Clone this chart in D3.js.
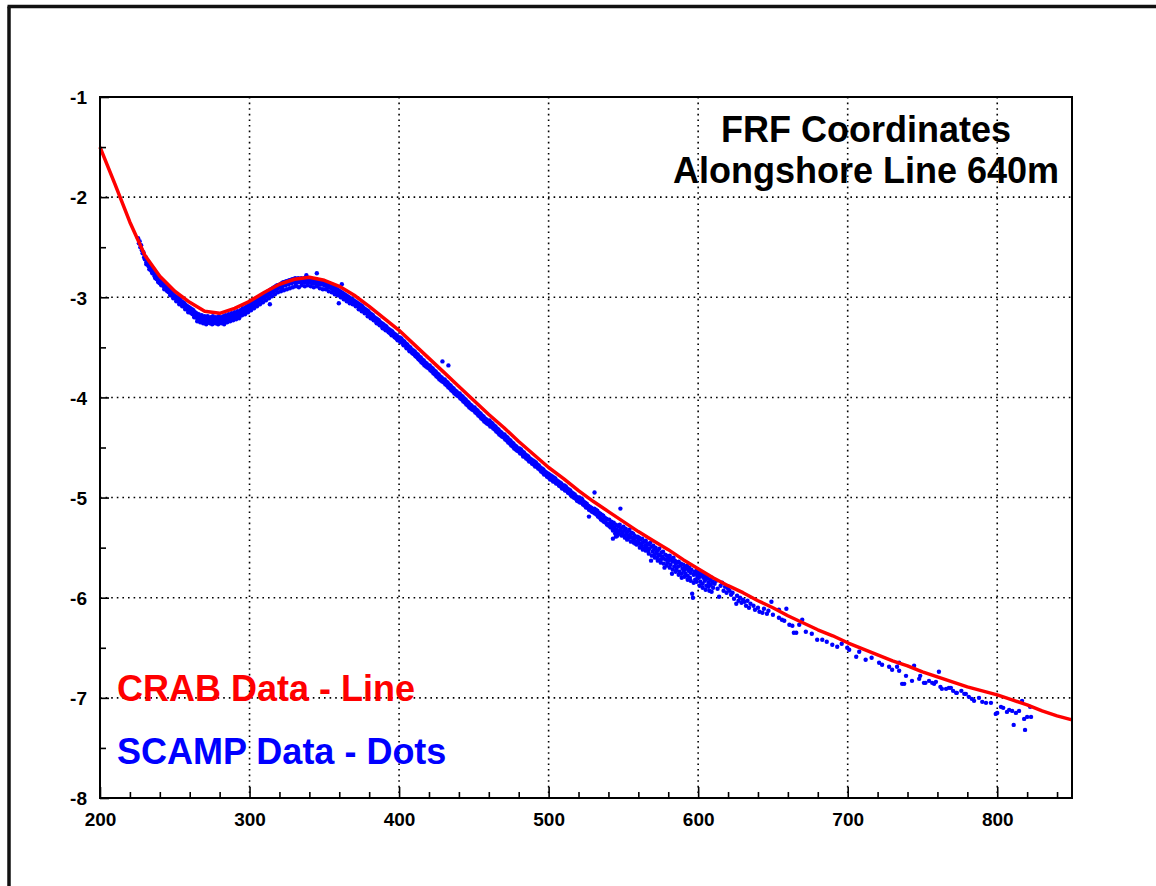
<!DOCTYPE html>
<html>
<head>
<meta charset="utf-8">
<script src="https://cdn.jsdelivr.net/npm/d3@7"></script>
<style>
  html, body { margin: 0; padding: 0; background: #fff; }
  svg { display: block; }
  text { font-family: "Liberation Sans", Arial, Helvetica, sans-serif; font-weight: bold; }
</style>
</head>
<body>
<svg id="chart" width="1156" height="886"></svg>
<script>
// ---------------- DATA ----------------
const titleLines = ["FRF Coordinates", "Alongshore Line 640m"];
const legendLabels = ["CRAB Data - Line", "SCAMP Data - Dots"];
const xTickValues = [200, 300, 400, 500, 600, 700, 800];
const xTickLabels = ["200", "300", "400", "500", "600", "700", "800"];
const yTickValues = [-1, -2, -3, -4, -5, -6, -7, -8];
const yTickLabels = ["-1", "-2", "-3", "-4", "-5", "-6", "-7", "-8"];

// CRAB survey line (cross-shore distance, elevation)
const crabX = [200,210,220,230,240,250,260,270,280,290,300,310,320,330,340,350,360,370,380,390,
               400,410,420,430,440,450,460,470,480,490,500,510,520,530,540,550,560,570,580,590,
               600,610,620,630,640,650,660,670,680,690,700,710,720,730,740,750,760,770,780,790,
               800,810,820,830,840,850];
const crabY = [-1.50,-1.87,-2.25,-2.58,-2.79,-2.94,-3.05,-3.14,-3.16,-3.11,-3.04,-2.95,-2.87,-2.82,-2.80,-2.83,-2.89,-2.98,-3.09,-3.21,
               -3.33,-3.47,-3.61,-3.75,-3.89,-4.03,-4.17,-4.30,-4.44,-4.57,-4.70,-4.81,-4.93,-5.04,-5.14,-5.24,-5.34,-5.43,-5.52,-5.62,
               -5.71,-5.80,-5.88,-5.95,-6.03,-6.10,-6.18,-6.25,-6.32,-6.38,-6.45,-6.51,-6.57,-6.63,-6.68,-6.74,-6.79,-6.84,-6.89,-6.93,
               -6.97,-7.02,-7.07,-7.13,-7.18,-7.22];

// SCAMP soundings (cross-shore distance, elevation)
const scampDots = [
[225.5,-2.41],[226,-2.46],[226.5,-2.44],[227,-2.50],[227.5,-2.48],[228,-2.53],[228.5,-2.56],[229,-2.55],[229.5,-2.60],[230,-2.62],
[230.5,-2.60],[231,-2.65],[231.5,-2.63],[232,-2.66],[232.5,-2.69],[233,-2.67],[233.5,-2.72],[234,-2.70],[234.5,-2.74],[235,-2.72],
[235.5,-2.76],[236,-2.75],[236.5,-2.79],[237,-2.77],[237.5,-2.80],[238,-2.82],[238.5,-2.80],[239,-2.84],[239.5,-2.83],[240,-2.86],
[240.5,-2.84],[241,-2.87],[241.5,-2.85],[242,-2.88],[242.5,-2.87],[243,-2.90],[243.5,-2.89],[244,-2.92],[244.5,-2.90],[245,-2.93],
[245.5,-2.92],[246,-2.95],[246.5,-2.93],[247,-2.96],[247.5,-2.95],[248,-2.98],[248.5,-2.96],[249,-2.99],[249.5,-2.98],[250,-3.00],
[250.5,-2.99],[251,-3.02],[251.5,-3.00],[252,-3.03],[252.5,-3.01],[253,-3.05],[253.5,-3.02],[254,-3.06],[254.5,-3.04],[255,-3.07],
[255.5,-3.05],[256,-3.09],[256.5,-3.06],[257,-3.10],[257.5,-3.08],[258,-3.11],[258.5,-3.09],[259,-3.13],[259.5,-3.10],[260,-3.14],
[260.5,-3.11],[261,-3.15],[261.5,-3.12],[262,-3.17],[262.5,-3.13],[263,-3.18],[263.5,-3.15],[264,-3.20],[264.5,-3.16],[265,-3.19],
[265.5,-3.22],[266,-3.17],[266.5,-3.21],[267,-3.19],[267.5,-3.23],[268,-3.18],[268.5,-3.22],[269,-3.20],[269.5,-3.24],[270,-3.19],
[270.5,-3.22],[271,-3.20],[271.5,-3.25],[272,-3.19],[272.5,-3.23],[273,-3.21],[273.5,-3.26],[274,-3.20],[274.5,-3.24],[275,-3.22],
[275.5,-3.19],[276,-3.25],[276.5,-3.21],[277,-3.23],[277.5,-3.20],[278,-3.26],[278.5,-3.22],[279,-3.24],[279.5,-3.19],[280,-3.23],
[280.5,-3.21],[281,-3.25],[281.5,-3.20],[282,-3.23],[282.5,-3.19],[283,-3.24],[283.5,-3.21],[284,-3.18],[284.5,-3.22],[285,-3.20],
[285.5,-3.24],[286,-3.17],[286.5,-3.21],[287,-3.19],[287.5,-3.22],[288,-3.16],[288.5,-3.20],[289,-3.18],[289.5,-3.21],[290,-3.15],
[290.5,-3.19],[291,-3.16],[291.5,-3.20],[292,-3.14],[292.5,-3.18],[293,-3.15],[293.5,-3.19],[294,-3.13],[294.5,-3.17],[295,-3.14],
[295.5,-3.11],[296,-3.16],[296.5,-3.12],[297,-3.15],[297.5,-3.10],[298,-3.14],[298.5,-3.09],[299,-3.13],[299.5,-3.08],[300,-3.11],
[300.5,-3.07],[301,-3.10],[301.5,-3.05],[302,-3.09],[302.5,-3.04],[303,-3.08],[303.5,-3.03],[304,-3.07],[304.5,-3.02],[305,-3.05],
[305.5,-3.01],[306,-3.04],[306.5,-3.00],[307,-3.03],[307.5,-2.99],[308,-3.02],[308.5,-2.98],[309,-3.01],[309.5,-2.97],[310,-3.00],
[313.6,-3.07],
[310.5,-2.96],[311,-2.99],[311.5,-2.95],[312,-2.98],[312.5,-2.94],[313,-2.97],[313.5,-2.93],[314,-2.96],[314.5,-2.92],[315,-2.95],
[315.5,-2.91],[316,-2.94],[316.5,-2.90],[317,-2.93],[317.5,-2.89],[318,-2.92],[318.5,-2.88],[319,-2.91],[319.5,-2.88],[320,-2.90],
[320.5,-2.87],[321,-2.90],[321.5,-2.86],[322,-2.89],[322.5,-2.85],[323,-2.88],[323.5,-2.85],[324,-2.88],[324.5,-2.84],[325,-2.87],
[325.5,-2.84],[326,-2.87],[326.5,-2.83],[327,-2.86],[327.5,-2.83],[328,-2.86],[328.5,-2.82],[329,-2.85],[329.5,-2.82],[330,-2.85],
[330.5,-2.81],[331,-2.85],[331.5,-2.82],[332,-2.84],[332.5,-2.81],[333,-2.85],[333.5,-2.82],[334,-2.84],[334.5,-2.81],[335,-2.85],
[335.5,-2.82],[336,-2.84],[336.5,-2.81],[337,-2.85],[337.5,-2.82],[338,-2.84],[338.5,-2.81],[339,-2.85],[339.5,-2.82],[340,-2.84],
[338,-2.78],[345,-2.76],[331,-2.88],[322,-2.92],
[340.5,-2.82],[341,-2.85],[341.5,-2.83],[342,-2.86],[342.5,-2.82],[343,-2.85],[343.5,-2.83],[344,-2.86],[344.5,-2.82],[345,-2.85],
[345.5,-2.83],[346,-2.87],[346.5,-2.84],[347,-2.86],[347.5,-2.83],[348,-2.87],[348.5,-2.84],[349,-2.87],[349.5,-2.85],[350,-2.88],
[350.5,-2.85],[351,-2.88],[351.5,-2.86],[352,-2.89],[352.5,-2.86],[353,-2.90],[353.5,-2.87],[354,-2.90],[354.5,-2.88],[355,-2.91],
[355.5,-2.89],[356,-2.92],[356.5,-2.90],[357,-2.93],[357.5,-2.91],[358,-2.94],[358.5,-2.92],[359,-2.95],[359.5,-2.93],[360,-2.96],
[361.7,-2.87],[359.7,-3.06],
[360.5,-2.94],[361,-2.97],[361.5,-2.95],[362,-2.98],[362.5,-2.96],[363,-2.99],[363.5,-2.97],[364,-3.00],[364.5,-2.98],[365,-3.01],
[365.5,-2.99],[366,-3.02],[366.5,-3.00],[367,-3.03],[367.5,-3.01],[368,-3.04],[368.5,-3.02],[369,-3.05],[369.5,-3.03],[370,-3.06],
[370.5,-3.04],[371,-3.07],[371.5,-3.05],[372,-3.08],[372.5,-3.06],[373,-3.09],[373.5,-3.07],[374,-3.11],[374.5,-3.08],[375,-3.12],
[375.5,-3.09],[376,-3.13],[376.5,-3.11],[377,-3.14],[377.5,-3.12],[378,-3.15],[378.5,-3.13],[379,-3.17],[379.5,-3.14],[380,-3.18],
[380.5,-3.16],[381,-3.19],[381.5,-3.17],[382,-3.21],[382.5,-3.18],[383,-3.22],[383.5,-3.20],[384,-3.23],[384.5,-3.21],[385,-3.25],
[385.5,-3.22],[386,-3.26],[386.5,-3.23],[387,-3.27],[387.5,-3.25],[388,-3.28],[388.5,-3.26],[389,-3.30],[389.5,-3.27],[390,-3.31],
[390.5,-3.28],[391,-3.32],[391.5,-3.29],[392,-3.33],[392.5,-3.31],[393,-3.34],[393.5,-3.32],[394,-3.36],[394.5,-3.33],[395,-3.37],
[395.5,-3.34],[396,-3.38],[396.5,-3.36],[397,-3.39],[397.5,-3.37],[398,-3.41],[398.5,-3.38],[399,-3.42],[399.5,-3.40],[400,-3.43],
[400.5,-3.40],[401,-3.44],[401.5,-3.41],[402,-3.45],[402.5,-3.43],[403,-3.47],[403.5,-3.44],[404,-3.48],[404.5,-3.46],[405,-3.50],
[405.5,-3.47],[406,-3.51],[406.5,-3.49],[407,-3.53],[407.5,-3.50],[408,-3.54],[408.5,-3.52],[409,-3.56],[409.5,-3.53],[410,-3.57],
[410.5,-3.54],[411,-3.58],[411.5,-3.56],[412,-3.60],[412.5,-3.57],[413,-3.61],[413.5,-3.59],[414,-3.63],[414.5,-3.60],[415,-3.64],
[415.5,-3.62],[416,-3.66],[416.5,-3.63],[417,-3.67],[417.5,-3.65],[418,-3.69],[418.5,-3.66],[419,-3.70],[419.5,-3.68],[420,-3.71],
[429,-3.64],[433,-3.68],
[420.5,-3.68],[421,-3.72],[421.5,-3.70],[422,-3.74],[422.5,-3.71],[423,-3.75],[423.5,-3.73],[424,-3.77],[424.5,-3.74],[425,-3.78],
[425.5,-3.76],[426,-3.80],[426.5,-3.77],[427,-3.81],[427.5,-3.79],[428,-3.83],[428.5,-3.80],[429,-3.84],[429.5,-3.82],[430,-3.85],
[430.5,-3.82],[431,-3.86],[431.5,-3.84],[432,-3.88],[432.5,-3.85],[433,-3.89],[433.5,-3.87],[434,-3.91],[434.5,-3.88],[435,-3.92],
[435.5,-3.90],[436,-3.94],[436.5,-3.91],[437,-3.95],[437.5,-3.93],[438,-3.97],[438.5,-3.94],[439,-3.98],[439.5,-3.96],[440,-3.99],
[440.5,-3.96],[441,-4.00],[441.5,-3.98],[442,-4.02],[442.5,-3.99],[443,-4.03],[443.5,-4.01],[444,-4.05],[444.5,-4.02],[445,-4.06],
[445.5,-4.04],[446,-4.08],[446.5,-4.05],[447,-4.09],[447.5,-4.07],[448,-4.11],[448.5,-4.08],[449,-4.12],[449.5,-4.10],[450,-4.13],
[450.5,-4.10],[451,-4.14],[451.5,-4.12],[452,-4.16],[452.5,-4.13],[453,-4.17],[453.5,-4.15],[454,-4.19],[454.5,-4.16],[455,-4.20],
[455.5,-4.18],[456,-4.22],[456.5,-4.19],[457,-4.23],[457.5,-4.21],[458,-4.25],[458.5,-4.22],[459,-4.26],[459.5,-4.24],[460,-4.27],
[460.5,-4.23],[461,-4.27],[461.5,-4.25],[462,-4.29],[462.5,-4.26],[463,-4.30],[463.5,-4.28],[464,-4.32],[464.5,-4.29],[465,-4.33],
[465.5,-4.31],[466,-4.35],[466.5,-4.32],[467,-4.36],[467.5,-4.34],[468,-4.38],[468.5,-4.35],[469,-4.39],[469.5,-4.37],[470,-4.40],
[470.5,-4.37],[471,-4.41],[471.5,-4.39],[472,-4.43],[472.5,-4.40],[473,-4.44],[473.5,-4.42],[474,-4.46],[474.5,-4.43],[475,-4.47],
[475.5,-4.45],[476,-4.49],[476.5,-4.46],[477,-4.50],[477.5,-4.48],[478,-4.52],[478.5,-4.49],[479,-4.53],[479.5,-4.51],[480,-4.54],
[480.5,-4.51],[481,-4.55],[481.5,-4.52],[482,-4.56],[482.5,-4.54],[483,-4.58],[483.5,-4.55],[484,-4.59],[484.5,-4.57],[485,-4.60],
[485.5,-4.58],[486,-4.62],[486.5,-4.59],[487,-4.63],[487.5,-4.61],[488,-4.64],[488.5,-4.62],[489,-4.66],[489.5,-4.63],[490,-4.67],
[490.5,-4.64],[491,-4.68],[491.5,-4.65],[492,-4.69],[492.5,-4.67],[493,-4.70],[493.5,-4.68],[494,-4.72],[494.5,-4.70],[495,-4.73],
[495.5,-4.71],[496,-4.75],[496.5,-4.72],[497,-4.76],[497.5,-4.74],[498,-4.77],[498.5,-4.75],[499,-4.79],[499.5,-4.76],[500,-4.80],
[500.5,-4.77],[501,-4.81],[501.5,-4.78],[502,-4.82],[502.5,-4.79],[503,-4.83],[503.5,-4.80],[504,-4.84],[504.5,-4.81],[505,-4.85],
[505.5,-4.83],[506,-4.86],[506.5,-4.84],[507,-4.88],[507.5,-4.85],[508,-4.89],[508.5,-4.86],[509,-4.90],[509.5,-4.88],[510,-4.91],
[510.5,-4.88],[511,-4.92],[511.5,-4.89],[512,-4.93],[512.5,-4.91],[513,-4.95],[513.5,-4.92],[514,-4.96],[514.5,-4.93],[515,-4.97],
[515.5,-4.95],[516,-4.99],[516.5,-4.96],[517,-5.00],[517.5,-4.97],[518,-5.01],[518.5,-4.99],[519,-5.03],[519.5,-5.00],[520,-5.04],
[520.5,-5.00],[521,-5.04],[521.5,-5.01],[522,-5.05],[522.5,-5.02],[523,-5.06],[523.5,-5.04],[524,-5.08],[524.5,-5.05],[525,-5.09],
[525.5,-5.06],[526,-5.10],[526.5,-5.08],[527,-5.12],[527.5,-5.09],[528,-5.13],[528.5,-5.10],[529,-5.14],[529.5,-5.12],[530,-5.15],
[530.7,-4.95],[527,-5.19],[548,-5.11],
[530.5,-5.11],[531,-5.15],[531.5,-5.12],[532,-5.17],[532.5,-5.13],[533,-5.18],[533.5,-5.15],[534,-5.20],[534.5,-5.16],[535,-5.21],
[535.5,-5.17],[536,-5.23],[536.5,-5.18],[537,-5.24],[537.5,-5.20],[538,-5.25],[538.5,-5.21],[539,-5.27],[539.5,-5.22],[540,-5.28],
[540.5,-5.22],[541,-5.26],[541.5,-5.30],[542,-5.24],[542.5,-5.28],[543,-5.33],[543.5,-5.25],[544,-5.30],[544.5,-5.36],[545,-5.27],
[545.5,-5.32],[546,-5.38],[546.5,-5.29],[547,-5.34],[547.5,-5.27],[548,-5.32],[548.5,-5.37],[549,-5.30],[549.5,-5.35],[550,-5.29],
[545,-5.39],[543,-5.41],
[550.5,-5.33],[551,-5.38],[551.5,-5.31],[552,-5.36],[552.5,-5.42],[553,-5.34],[553.5,-5.39],[554,-5.32],[554.5,-5.37],[555,-5.44],
[555.5,-5.35],[556,-5.40],[556.5,-5.36],[557,-5.42],[557.5,-5.38],[558,-5.46],[558.5,-5.40],[559,-5.44],[559.5,-5.39],[560,-5.43],
[560.5,-5.40],[561,-5.46],[561.5,-5.42],[562,-5.48],[562.5,-5.41],[563,-5.45],[563.5,-5.51],[564,-5.44],[564.5,-5.48],[565,-5.43],
[565.5,-5.50],[566,-5.46],[566.5,-5.53],[567,-5.47],[567.5,-5.51],[568,-5.45],[568.5,-5.63],[569,-5.49],[569.5,-5.54],[570,-5.48],
[570.5,-5.52],[571,-5.57],[571.5,-5.50],[572,-5.55],[572.5,-5.60],[573,-5.53],[573.5,-5.57],[574,-5.51],[574.5,-5.58],[575,-5.62],
[575.5,-5.55],[576,-5.59],[576.5,-5.54],[577,-5.61],[577.5,-5.70],[578,-5.57],[578.5,-5.62],[579,-5.58],[579.5,-5.65],[580,-5.60],
[580.5,-5.63],[581,-5.58],[581.5,-5.67],[582,-5.61],[582.5,-5.76],[583,-5.64],[583.5,-5.60],[584,-5.69],[584.5,-5.63],[585,-5.66],
[585.5,-5.72],[586,-5.65],[586.5,-5.69],[587,-5.64],[587.5,-5.74],[588,-5.68],[588.5,-5.66],[589,-5.80],[589.5,-5.71],[590,-5.67],
[590.5,-5.73],[591,-5.69],[591.5,-5.76],[592,-5.71],[592.5,-5.68],[593,-5.78],[593.5,-5.73],[594,-5.70],[594.5,-5.80],[595,-5.75],
[595.5,-5.72],[596,-5.96],[596.5,-6.00],[597,-5.77],[597.5,-5.74],[598,-5.82],[598.5,-5.76],[599,-5.73],[599.5,-5.79],[600,-5.75],
[600.5,-5.80],[601,-5.76],[601.5,-5.84],[602,-5.78],[602.5,-5.75],[603,-5.86],[603.5,-5.80],[604,-5.77],[604.5,-5.83],[605,-5.79],
[605.5,-5.88],[606,-5.81],[606.5,-5.78],[607,-5.85],[607.5,-5.93],[608,-5.82],[608.5,-5.87],[609,-5.80],[609.5,-5.84],[610,-5.90],
[611,-5.86],[612,-5.83],[613,-5.91],[614,-5.99],[615,-5.88],[616,-5.85],[617,-5.93],[618,-5.89],[619,-5.95],[620,-5.91],
[621,-5.93],[622,-5.97],[623,-5.95],[624,-6.01],[625.5,-6.06],[626,-5.98],[627,-6.03],[628,-6.00],[629,-6.05],[630,-6.02],
[631,-6.04],[632,-6.08],[633,-6.03],[634,-6.10],[635,-6.06],[637,-6.08],[638,-6.12],[640,-6.10],
[641,-6.14],[643,-6.15],[644,-6.11],[646,-6.16],[647,-6.13],[649,-6.04],[650,-6.17],
[654,-6.20],[654,-6.12],[656,-6.22],[657.6,-6.23],[659,-6.11],[661,-6.27],[663,-6.28],[664,-6.35],[665.6,-6.35],[667.6,-6.27],
[669.6,-6.22],[672,-6.34],[676,-6.36],[679.6,-6.42],[683,-6.42],[686,-6.44],[689.7,-6.47],[693,-6.49],[696,-6.46],[699.7,-6.50],
[701,-6.52],[705.7,-6.59],[707.7,-6.54],[712,-6.62],[716,-6.60],[721,-6.65],[723,-6.67],[727.7,-6.69],[729.7,-6.72],[733,-6.69],
[734.4,-6.65],[734.4,-6.73],[736.4,-6.86],[737.8,-6.86],[739,-6.78],[743,-6.83],[744.4,-6.68],[747.8,-6.81],[751,-6.85],[752,-6.85],
[754.4,-6.83],[756.5,-6.85],[757.8,-6.86],[761,-6.74],[762,-6.89],[763,-6.91],[765.8,-6.91],[767.7,-6.90],[769,-6.90],[772.5,-6.95],
[773,-6.95],[776,-6.93],[778,-6.96],[779,-6.96],[781,-6.99],[783,-7.01],[784.5,-7.03],[787.8,-7.00],[792.5,-7.05],[795.8,-7.05],
[799,-7.16],[800,-7.15],[802.5,-7.09],[806.5,-7.14],[810,-7.13],[811,-7.27],[814.6,-7.13],[816.6,-7.03],[818,-7.21],[818.6,-7.32],
[820,-7.19],[822,-7.09],[822.6,-7.19],[804,-7.10],[808,-7.12],[812.5,-7.15],[790,-7.04],[770.5,-6.93],[759,-6.84],[748.5,-6.78],
// lower edge of the sounding band
[231,-2.67],[233,-2.72],[235,-2.76],[237,-2.81],[239,-2.85],[241,-2.88],[243,-2.92],[245,-2.94],[247,-2.98],[249,-3.01],
[251,-3.04],[253,-3.07],[255,-3.09],[257,-3.12],[259,-3.15],[261,-3.16],[263,-3.20],[265,-3.24],[267,-3.25],[269,-3.26],
[271,-3.27],[273,-3.24],[275,-3.27],[277,-3.26],[279,-3.27],[281,-3.26],[283,-3.27],[285,-3.25],[287,-3.24],[289,-3.23],
[291,-3.22],[293,-3.21],[295,-3.18],[297,-3.17],[299,-3.15],[301,-3.13],[303,-3.11],[305,-3.09],[307,-3.07],[309,-3.05],
[311,-3.03],[313,-3.01],[315,-2.99],[317,-2.97],[319,-2.95],[321,-2.94],[323,-2.93],[325,-2.92],[327,-2.91],[329,-2.90],
[331,-2.89],[333,-2.90],[335,-2.88],[337,-2.89],[339,-2.88],[341,-2.89],[343,-2.90],[345,-2.89],[347,-2.91],[349,-2.92],
[351,-2.92],[353,-2.94],[355,-2.95],[357,-2.97],[359,-2.98],[361,-3.00],[363,-3.02],[365,-3.04],[367,-3.06],[369,-3.07],
[371,-3.09],[373,-3.12],[375,-3.14],[377,-3.16],[379,-3.19],[381,-3.21],[383,-3.23],[385,-3.26],[387,-3.28],[389,-3.31],
[391,-3.33],[393,-3.35],[395,-3.38],[397,-3.40],[399,-3.43],[401,-3.45],[403,-3.48],[405,-3.51],[407,-3.54],[409,-3.56],
[411,-3.59],[413,-3.62],[415,-3.65],[417,-3.68],[419,-3.70],[421,-3.73],[423,-3.76],[425,-3.79],[427,-3.82],[429,-3.84],
[431,-3.87],[433,-3.90],[435,-3.93],[437,-3.96],[439,-3.98],[441,-4.01],[443,-4.04],[445,-4.07],[447,-4.10],[449,-4.12],
[451,-4.15],[453,-4.18],[455,-4.21],[457,-4.24],[459,-4.26],[461,-4.29],[463,-4.31],[465,-4.34],[467,-4.37],[469,-4.39],
[471,-4.42],[473,-4.45],[475,-4.48],[477,-4.51],[479,-4.53],[481,-4.56],[483,-4.59],[485,-4.61],[487,-4.64],[489,-4.66],
[491,-4.69],[493,-4.71],[495,-4.74],[497,-4.77],[499,-4.79],[501,-4.82],[503,-4.84],[505,-4.86],[507,-4.88],[509,-4.91],
[511,-4.93],[513,-4.95],[515,-4.98],[517,-5.00],[519,-5.03],[521,-5.05],[523,-5.07],[525,-5.10],[527,-5.12],[529,-5.14],
[531,-5.16],[533,-5.19],[535,-5.22],[537,-5.24],[539,-5.26],[541,-5.29],[543,-5.31],[545,-5.34],[547,-5.36],[549,-5.38],
[551,-5.40],[553,-5.41],[555,-5.40],[557,-5.45],[559,-5.47],[561,-5.50],[563,-5.52],[565,-5.53],[567,-5.56],[569,-5.58],
[571,-5.60],[573,-5.63],[575,-5.65],[577,-5.66],[579,-5.68],[581,-5.70],[583,-5.72],[585,-5.74],[587,-5.77],[589,-5.76],
[591,-5.79],[593,-5.82],[595,-5.83],[597,-5.85],[599,-5.84],[601,-5.88],[603,-5.90],[605,-5.92],[607,-5.89],[609,-5.94]
];

// ---------------- LAYOUT ----------------
const W = 1156, H = 886;
const plot = { left: 100, top: 97, right: 1072, bottom: 798 };
const FONT = '"Liberation Sans", Arial, Helvetica, sans-serif';

const svg = d3.select("#chart");

const x = d3.scaleLinear().domain([200, 850]).range([plot.left, plot.right]);
const y = d3.scaleLinear().domain([-1, -8]).range([plot.top, plot.bottom]);

// Outer frame (left and top edges visible)
svg.append("line").attr("x1", 9).attr("x2", 9).attr("y1", 6.5).attr("y2", H + 5)
  .attr("stroke", "#111").attr("stroke-width", 3.5);
svg.append("line").attr("x1", 7.5).attr("x2", W + 5).attr("y1", 6.5).attr("y2", 6.5)
  .attr("stroke", "#111").attr("stroke-width", 3.5);

// Grid (dotted)
const grid = svg.append("g").attr("class", "grid");
grid.selectAll("line.gx").data(xTickValues.filter(v => v > 200 && v < 850)).join("line")
  .attr("x1", d => x(d)).attr("x2", d => x(d))
  .attr("y1", plot.top).attr("y2", plot.bottom)
  .attr("stroke", "#000").attr("stroke-width", 1.6).attr("stroke-dasharray", "1.6,4");
grid.selectAll("line.gy").data(yTickValues.filter(v => v < -1 && v > -8)).join("line")
  .attr("y1", d => y(d)).attr("y2", d => y(d))
  .attr("x1", plot.left).attr("x2", plot.right)
  .attr("stroke", "#000").attr("stroke-width", 1.6).attr("stroke-dasharray", "1.6,4");

// Data: dots then line
svg.append("g").selectAll("circle").data(scampDots).join("circle")
  .attr("cx", d => x(d[0])).attr("cy", d => y(d[1]))
  .attr("r", 2.2).attr("fill", "#0000ff");

const crab = crabX.map((v, i) => [v, crabY[i]]);
svg.append("path").datum(crab)
  .attr("d", d3.line().x(d => x(d[0])).y(d => y(d[1])))
  .attr("fill", "none").attr("stroke", "#ff0000").attr("stroke-width", 3.5)
  .attr("stroke-linejoin", "round");

// Axes
const xMinor = d3.range(220, 850, 20).filter(v => v % 100 !== 0);
const yMinor = [-1.5, -2.5, -3.5, -4.5, -5.5, -6.5, -7.5];

const xAxis = svg.append("g").attr("transform", `translate(0,${plot.bottom})`)
  .call(d3.axisBottom(x).tickValues(xTickValues).tickSize(-11)
    .tickFormat((d, i) => xTickLabels[i]).tickSizeOuter(0));
xAxis.select(".domain").remove();
xAxis.selectAll("line").attr("stroke", "#000").attr("stroke-width", 1.6);
xAxis.selectAll("text").attr("y", 28).attr("dy", 0)
  .style("font-family", FONT).style("font-weight", "bold").style("font-size", "19px").attr("fill", "#000");

const xAxisMinor = svg.append("g").attr("transform", `translate(0,${plot.bottom})`)
  .call(d3.axisBottom(x).tickValues(xMinor).tickSize(-6).tickFormat("").tickSizeOuter(0));
xAxisMinor.select(".domain").remove();
xAxisMinor.selectAll("line").attr("stroke", "#000").attr("stroke-width", 1.6);

const yAxis = svg.append("g").attr("transform", `translate(${plot.left},0)`)
  .call(d3.axisLeft(y).tickValues(yTickValues).tickSize(-9)
    .tickFormat((d, i) => yTickLabels[i]).tickSizeOuter(0));
yAxis.select(".domain").remove();
yAxis.selectAll("line").attr("stroke", "#000").attr("stroke-width", 1.6);
yAxis.selectAll("text").attr("x", -13).attr("dy", "0.36em")
  .style("font-family", FONT).style("font-weight", "bold").style("font-size", "19px").attr("fill", "#000");

const yAxisMinor = svg.append("g").attr("transform", `translate(${plot.left},0)`)
  .call(d3.axisLeft(y).tickValues(yMinor).tickSize(-6).tickFormat("").tickSizeOuter(0));
yAxisMinor.select(".domain").remove();
yAxisMinor.selectAll("line").attr("stroke", "#000").attr("stroke-width", 1.6);

// Plot frame
svg.append("rect")
  .attr("x", plot.left).attr("y", plot.top)
  .attr("width", plot.right - plot.left).attr("height", plot.bottom - plot.top)
  .attr("fill", "none").attr("stroke", "#000").attr("stroke-width", 2);

// Title
svg.append("g").selectAll("text").data(titleLines).join("text")
  .attr("x", 866).attr("y", (d, i) => 142 + i * 41)
  .attr("text-anchor", "middle")
  .style("font-size", "36px").attr("fill", "#000")
  .text(d => d);

// Legend
const legendColors = ["#ff0000", "#0000ff"];
svg.append("g").selectAll("text").data(legendLabels).join("text")
  .attr("x", 117).attr("y", (d, i) => 701 + i * 63)
  .style("font-size", "36px").attr("fill", (d, i) => legendColors[i])
  .text(d => d);
</script>
</body>
</html>
